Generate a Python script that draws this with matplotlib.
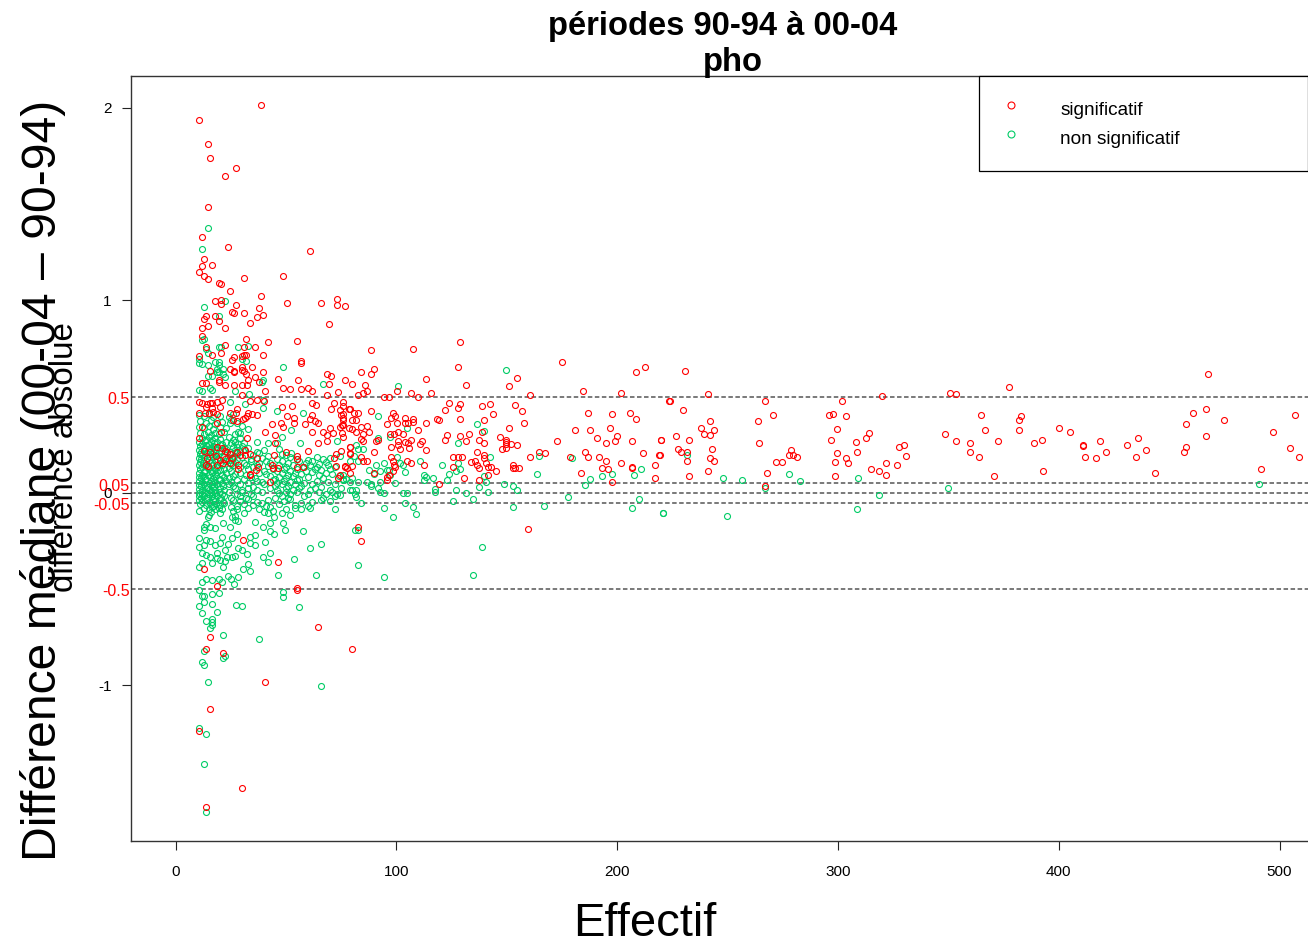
# %%
import matplotlib
matplotlib.use('Agg')
import matplotlib.pyplot as plt
from matplotlib.lines import Line2D
from matplotlib.patches import Rectangle
import numpy as np

plt.rcParams['font.family'] = ['Liberation Sans', 'DejaVu Sans']
plt.rcParams['axes.unicode_minus'] = False

# %%
# values: (effectif, difference)
red_top = [(38.7,2.017),(10.5,1.937),(14.7,1.811),(15.6,1.742),(27.6,1.688),(22.6,1.646),(14.7,1.487),
    (12,1.329),(23.8,1.276),(60.9,1.258),(12.9,1.217),(12,1.179),(16.5,1.186),(10.5,1.148),(12.9,1.127),
    (14.7,1.111),(30.9,1.116),(48.8,1.127),(19.7,1.09),(20.6,1.085),(24.8,1.047),(38.7,1.025),(17.7,.995),
    (20.6,1.002),(20.6,.981),(27.6,.978),(50.7,.985),(65.9,.985),(72.9,1.009),(72.9,.978),(76.6,.973),
    (37.8,.962),(25.7,.942),(26.7,.936),(30.9,.936),(39.6,.926),(36.8,.916),(13.8,.921),(17.7,.921),
    (12.9,.905),(19.7,.895),(33.6,.883),(14.7,.867),(12,.857),(22.6,.857),(69.7,.878),(12,.815),(31.8,.8),
    (41.9,.782),(54.9,.787),(22.6,.767),(30.9,.756),(36,.756),(13.8,.756),(20.6,.729),(16.5,.718),
    (39.6,.718),(31.8,.718),(30.9,.718),(30,.713),(26.7,.708),(10.5,.713),(25.7,.692),(56.8,.687),
    (56.8,.676),(34.5,.656),(24.8,.645),(30,.656),(30,.638),(15.6,.635),(26.7,.635),(26.7,.63),(30.9,.635),
    (31.8,.62),(39.6,.63),(68.6,.62),(70.6,.609),(36,.604),(46.6,.593),(19.7,.587),(32.7,.587),(55.5,.585),
    (76.6,.587)]

red_dense = [(11.9,.57),(13.8,.57),(19.7,.578),(22.6,.563),(26.7,.563),(30,.563),(32.2,.563),(37.8,.578),
    (40.5,.53),(48.8,.544),(51.7,.539),(56.8,.539),(59.9,.544),(62,.53),(69.7,.566),(73.8,.525),(30,.509),
    (68.5,.509),(10.5,.474),(11.9,.466),(16.4,.469),(18.6,.474),(20.9,.483),(33.7,.48),(36.8,.483),
    (40.2,.48),(62,.469),(63.6,.457),(71.8,.469),(75.7,.474),(13.8,.448),(16.4,.44),(27.7,.435),(48.1,.448),
    (52.6,.452),(70.6,.438),(74.5,.431),(78.7,.435),(10.5,.414),(15.3,.417),(19,.41),(27.4,.414),(32.2,.397),
    (34.5,.41),(36.8,.405),(50.7,.4),(61.7,.405),(74.8,.405),(30.4,.383),(27.7,.376),(19,.362),(53.8,.388),
    (53.8,.365),(60.9,.383),(63.2,.371),(58.7,.358),(76,.388),(12,.345),(43.9,.358),(47.6,.365),(48.8,.345),
    (64.7,.365),(75.3,.353),(74.5,.345),(78.7,.336),(70,.336),(20.5,.319),(40.5,.319),(45.1,.301),(61.7,.319),
    (66.9,.319),(71.5,.313),(75.3,.31),(68.5,.301),(10.5,.284),(32.5,.284),(45.1,.261),(64.7,.258),(68.5,.272),
    (79,.241),(18.6,.241),(22.4,.22),(12.9,.22),(24.7,.203),(29.2,.197),(31.5,.197),(33.7,.203),(44.6,.196),
    (49.9,.215),(54.9,.192),(59.9,.22),(74.8,.22),(72.7,.203),(71.8,.18),(79,.203),(14.4,.18),(20.2,.171),
    (22.4,.175),(36.8,.18),(54.9,.175),(43.6,.145),(13.8,.145),(28.5,.145),(37.5,.133),(44.3,.128),(46.6,.128),
    (54.9,.133),(57.6,.137),(72.7,.14),(76.8,.14),(36.5,.12),(28.5,.123),(33.7,.097),(33.7,.092),(74.5,.094),
    (73.8,.076),(42.8,.059),(30.7,-.244),(46.6,-.357),(12.9,-.395),(18.8,-.483),(54.9,-.495),
    (15.6,.215),(18.3,.192),(20.9,.232),(23.2,.215),(25.4,.18),(27.7,.215),(14.9,.14),(19,.145),(21.7,.154),
    (24.7,.154),(31.5,.223),(13.4,.414),(14.4,.462),(17.1,.422),(15.6,.466),(20.2,.448),(24.7,.414),(26.2,.379),
    (31.5,.388),(33,.414)]

red_low = [(54.9,-.504),(64.5,-.696),(15.6,-.75),(13.8,-.812),(21.5,-.833),(79.8,-.812),(40.5,-.982),
    (15.6,-1.12),(10.5,-1.236),(30,-1.533),(13.8,-1.63)]

red_mid = [(88.5,.74),(107.6,.75),(128.8,.786),(127.8,.655),(84,.629),(89.9,.644),(88.5,.618),(174.9,.682),
    (208.7,.629),(212.8,.655),(79.9,.566),(85.8,.561),(113.4,.592),(131.6,.561),(151,.554),(154.7,.598),
    (86.7,.528),(84.9,.518),(82.6,.508),(100.5,.528),(106.7,.518),(115.7,.518),(94.4,.497),(96.8,.497),
    (109.8,.497),(160.6,.508),(184.6,.528),(201.8,.518),(223.7,.476),(75.7,.454),(78.9,.438),(88.5,.428),
    (80.7,.417),(82.6,.417),(98.7,.417),(75.7,.41),(99.6,.4),(97.6,.391),(123.7,.469),(128.8,.464),(127.8,.443),
    (121.9,.433),(139,.454),(142.6,.464),(153.8,.459),(156.9,.428),(143.6,.41),(186.8,.417),(197.5,.41),
    (205.8,.417),(208.7,.385),(139.9,.379),(128.8,.385),(118.6,.386),(119.5,.379),(103.8,.391),(107.6,.386),
    (107.6,.369),(103.8,.364),(105.1,.364),(100.5,.364),(95.8,.359),(113.4,.364),(157.8,.364),(75.7,.379),
    (79.9,.379),(81.7,.379),(75.7,.353),(86.7,.348),(84,.343),(79.9,.333),(81.7,.315),(87.6,.315),(109.8,.327),
    (151,.338),(180.9,.327),(187.7,.327),(196.6,.338),(100.6,.317),(97,.305),(98.8,.305),(102.9,.307),(122.8,.3),
    (128.8,.294),(132.9,.305),(139,.315),(146.8,.289),(190.7,.284),(199.8,.296),(84.8,.305),(75.7,.289),
    (83.9,.281),(84.9,.27),(90.7,.269),(91.7,.275),(100.6,.269),(103.8,.263),(105.1,.258),(106.7,.275),
    (111.8,.269),(110.7,.253),(121.9,.274),(131.6,.269),(137.6,.274),(139.9,.258),(149.5,.274),(149.5,.263),
    (149.5,.253),(151.9,.253),(154.7,.248),(172.6,.269),(194.8,.258),(199,.269),(206.9,.269),(219.7,.275),
    (78.9,.237),(97.7,.241),(100.6,.248),(101.5,.227),(105.6,.232),(113.4,.222),(89.9,.215),(78.9,.206),
    (136.5,.215),(147.7,.227),(149.5,.232),(164.8,.215),(167.5,.206),(185.5,.21),(211.9,.206),(218.8,.199),
    (83.9,.184),(84.9,.168),(86.7,.168),(97.7,.189),(98.7,.168),(104.8,.168),(125.5,.184),(127.8,.189),
    (129.6,.184),(139.9,.199),(139.9,.179),(133.8,.163),(135.6,.168),(160.6,.184),(178.7,.184),(186.9,.184),
    (191.6,.189),(194.8,.168),(140.6,.158),(98.9,.147),(106.7,.153),(112.5,.147),(136.5,.147),(201.8,.158),
    (217,.147),(79.9,.142),(76.6,.137),(77.8,.127),(78.9,.104),(99.6,.137),(98.7,.114),(125.5,.137),(137.6,.13),
    (141.7,.137),(142.7,.137),(145,.114),(152.7,.147),(152.7,.127),(153.8,.127),(155.6,.127),(193,.13),
    (195.9,.125),(206.9,.137),(206.9,.13),(89.9,.104),(96.5,.094),(95.8,.083),(95.8,.068),(141.7,.094),
    (130.7,.078),(137.6,.068),(183.8,.104),(217,.078),(197.5,.057),(119.5,.045),(82.6,-.178),(84,-.251),
    (159.6,-.187)]

red_right = [(230.7,.634),(241,.513),(223.8,.476),(229.8,.433),(241.9,.374),(237.8,.338),(243.7,.327),
    (239.5,.307),(241.9,.3),(226.5,.295),(219.9,.274),(232.7,.274),(242.8,.227),(227.4,.227),(228.9,.215),
    (231.8,.215),(219.4,.199),(241.9,.179),(243.7,.168),(231.8,.168),(241,.114),(232.7,.088),(266.8,.476),
    (270.6,.405),(263.6,.374),(264.4,.258),(278.7,.222),(277.8,.199),(279.8,.199),(281.6,.184),(271.9,.163),
    (274.7,.163),(267.7,.104),(266.8,.036),(301.8,.476),(295.9,.405),(297.8,.41),(303.8,.4),(319.9,.502),
    (299.6,.333),(313.9,.312),(312.5,.284),(296.8,.274),(308,.263),(308.8,.215),(299.6,.205),(327.8,.237),
    (329.8,.248),(330.7,.194),(303.8,.179),(298.7,.163),(304.7,.158),(321.8,.158),(326.7,.147),(314.8,.125),
    (318.6,.114),(321.8,.094),(298.7,.088),(350.9,.518),(353.6,.513),(364.8,.405),(366.6,.327),(348.5,.307),
    (353.6,.269),(359.8,.258),(359.8,.21),(363.9,.184),(377.7,.549),(382.8,.397),(381.9,.379),(381.9,.327),
    (372.7,.269),(388.9,.258),(392.2,.274),(400,.338),(405,.317),(410.9,.248),(410.9,.246),(418.7,.269),
    (421.6,.215),(412,.189),(416.9,.179),(430.8,.248),(436,.284),(439.6,.222),(435,.184),(443.7,.104),
    (370.7,.088),(392.9,.114),(467.8,.618),(460.9,.417),(466.9,.437),(457.7,.359),(474.8,.379),(466.9,.295),
    (457.7,.241),(456.8,.215),(491.8,.125),(507.1,.405),(497,.317),(504.8,.232),(508.9,.184)]

green_top = [(14.7,1.376),(12,1.265),(22.6,.995),(12.9,.968),(19.7,.921),(12,.793),(12.9,.798),(19.7,.756),
    (20.6,.756),(28.5,.756),(32.7,.761),(13.8,.745),(14.7,.729),(10.5,.697),(10.5,.676),(12,.671),(30,.697),
    (31.8,.687),(17.7,.682),(19.7,.682),(14.7,.666),(19.7,.666),(48.8,.656),(21.5,.645),(18.8,.645),(18.8,.628),
    (19.7,.628),(21.5,.62),(14.7,.607),(16.5,.607),(22.6,.6),(39.6,.585)]

green_dense = [(10.5,.535),(12,.527),(15.6,.544),(16.4,.535),(27,.527),(33.4,.514),(39,.578),(66.9,.566),
    (24.7,.474),(31.5,.462),(39.8,.483),(39.8,.44),(45.8,.428),(57.6,.414),(24.7,.362),(28.5,.319),(36.8,.267),
    (42,.258),(45.8,.258),(48,.293),(52.3,.327),(56.4,.258),(73,.27),
    (10.5,.403),(13,.397),(15,.408),(17,.392),(20,.401),(24,.395),(26,.41),(11,.372),(14,.365),(16,.377),
    (18,.36),(21,.369),(25,.378),(28,.362),(10.5,.342),(13,.335),(15,.349),(17,.331),(20,.344),(23,.338),
    (30,.346),(33,.332),(11,.313),(13,.304),(14.5,.318),(16,.3),(18,.311),(19.5,.306),(22,.317),(27,.305),
    (29,.313),(12,.284),(14,.277),(15,.291),(16.5,.274),(18,.286),(20,.279),(24,.289),(26,.275),(29,.283),
    (10.5,.262),(12,.255),(13.5,.268),(15,.253),(16,.264),(17.5,.257),(19,.266),(21,.252),(23,.263),(25,.258),
    (27,.267),(28.5,.254),(31,.261),(11,.243),(13,.235),(14,.248),(15.5,.231),(17,.244),(18,.238),(20,.247),
    (22,.233),(26,.241),(28,.236),(30,.246),(33,.232),(10.5,.222),(11.5,.214),(13,.226),(14.5,.217),(16,.225),
    (17,.212),(18.5,.221),(20.5,.216),(23,.227),(24.5,.213),(27,.224),(29,.218),(31,.226),(37,.214),(40,.223),
    (47,.228),(11,.203),(12,.196),(14,.207),(15,.192),(16.5,.204),(18,.197),(19.5,.208),(21,.193),(25,.202),
    (26.5,.194),(28,.206),(35,.198),(38,.205),(42,.194),(48,.203),(50,.196),(52.5,.208),(10.5,.182),(11.5,.176),
    (13,.187),(15,.173),(17,.184),(19,.178),(22,.186),(24,.172),(26,.183),(28,.177),(30,.187),(34,.175),(39,.183),
    (46,.176),(52,.186),(55,.178),(60,.172),(64,.184),(67,.176),(70,.183),(11,.163),(12.5,.155),(14,.166),(16,.153),
    (18,.164),(20,.157),(23,.167),(25,.152),(27,.163),(31,.156),(34,.165),(38,.153),(41,.164),(43,.157),(48,.166),
    (51,.153),(56,.164),(59,.156),(62,.166),(65,.152),(68,.162),(10.5,.143),(12,.136),(13.5,.147),(15,.133),(17,.144),
    (19,.137),(21,.146),(24,.132),(26,.143),(29,.137),(32,.146),(35,.133),(37,.144),(42,.138),(47,.147),(50,.133),
    (53,.144),(58,.136),(61,.146),(64,.133),(69,.143),(72,.137),(11,.123),(13,.115),(14.5,.127),(16,.113),(18,.124),
    (20,.117),(22,.126),(25,.112),(33,.125),(40,.116),(44,.126),(46,.113),(49,.124),(52,.116),(55,.126),(59,.113),
    (63,.124),(66,.117),(70,.126),(10.5,.103),(12,.095),(13,.107),(15,.094),(16.5,.105),(18,.097),(19,.108),(21,.093),
    (23,.104),(27,.096),(29,.106),(32,.093),(38,.104),(41,.097),(48,.106),(51,.094),(54,.105),(57,.097),(62,.107),
    (65,.093),(68,.104),(71,.096),(10.5,.083),(11.5,.076),(13,.086),(14,.073),(15.5,.084),(17,.077),(18.5,.087),
    (20,.074),(22,.085),(24,.077),(26,.087),(31,.074),(34,.085),(36,.077),(43,.086),(45,.073),(47,.084),(50,.076),
    (53,.087),(56,.074),(60,.085),(67,.077),(74,.086),(77,.074),(10.5,.062),(12,.056),(13.5,.066),(15,.053),(16,.064),
    (18,.057),(19.5,.067),(21,.053),(23,.064),(25,.056),(28,.066),(33,.053),(37,.064),(39,.057),(44,.066),(46,.053),
    (49,.064),(52,.056),(55,.067),(58,.053),(64,.064),(69,.056),(76,.066),(10.5,.043),(11.5,.036),(13,.047),(14.5,.033),
    (16.5,.044),(17.5,.037),(19,.046),(21.5,.034),(24,.044),(26,.037),(29,.046),(35,.033),(40,.044),(45,.036),(48,.046),
    (51,.034),(54,.044),(57,.037),(62,.046),(66,.033),(72,.044),(10.5,.022),(12,.015),(14,.026),(15,.013),(17,.024),
    (18,.016),(20,.027),(22,.013),(27,.024),(30,.016),(33,.026),(37,.014),(43,.024),(46,.016),(50,.027),(53,.013),
    (56,.024),(61,.016),(63,.026),(70,.014),(75,.024),(79,.016),(10.5,.002),(12,-.004),(13.5,.006),(15,-.006),(16,.004),
    (18,-.003),(19.5,.007),(21,-.007),(24,.003),(28,-.004),(30,.006),(34,-.006),(39,.004),(47,-.003),(50,.007),(52,-.006),
    (55,.004),(60,-.004),(65,.006),(68,-.006),(71,.003),(73,-.004),(10.5,-.018),(11.5,-.025),(13,-.015),(14.5,-.027),
    (16.5,-.017),(17.5,-.024),(19,-.014),(20.5,-.027),(22,-.017),(25,-.024),(29,-.014),(32,-.026),(35,-.017),(45,-.024),
    (48,-.014),(51,-.027),(58,-.017),(67,-.024),(72,-.016),(10.5,-.037),(12,-.045),(14,-.034),(15,-.047),(17,-.036),
    (18,-.044),(20,-.034),(21.5,-.047),(26,-.037),(29,-.044),(33,-.034),(37,-.046),(42,-.036),(49,-.044),(52,-.034),
    (62,-.046),(66,-.036),(70,-.044),(11,-.057),(14,-.064),(15.5,-.054),(17,-.066),(18.5,-.056),(20,-.064),(22,-.054),
    (28,-.066),(31,-.056),(35,-.064),(39,-.054),(41,-.066),(47,-.056),(54,-.064),(57,-.054),(60,-.066),(10.5,-.092),
    (13,-.077),(15,-.084),(16.5,-.074),(18,-.086),(19.5,-.076),(21,-.084),(25,-.074),(28,-.086),(33,-.076),(38,-.084),
    (43,-.074),(50,-.086),(54,-.076),(57,-.084),(61,-.076),(72,-.086),(16,-.097),(20,-.103),(26,-.094),(31,-.104),
    (40,-.097),(42,-.104),(44,-.094),(48,-.103),(15,-.113),(25.5,-.123),(52,-.114),
    (14.7,-.123),(12.9,-.175),(13.8,-.161),(15.6,-.175),(12.9,-.192),(17.9,-.184),(21.7,-.158),(24.7,-.175),(27,-.12),
    (27,-.14),(28.5,-.144),(36,-.149),(39.8,-.175),(42.8,-.158),(44.6,-.123),(48.8,-.154),(49.7,-.192),(42.8,-.196),
    (44.8,-.213),(57.6,-.197),(10.5,-.235),(13.8,-.244),(15.6,-.248),(10.5,-.282),(12.9,-.27),(17.9,-.27),(20.2,-.262),
    (20.9,-.23),(23.9,-.267),(27.7,-.213),(25.4,-.236),(33.7,-.227),(36,-.218),(33.7,-.262),(36,-.27),(40.5,-.256),
    (60.9,-.288),(65.9,-.267),(11.9,-.313),(13.8,-.322),(15.6,-.334),(18.6,-.313),(19,-.339),(20.2,-.348),(16.4,-.362),
    (22.4,-.296),(23.2,-.331),(25.4,-.331),(27,-.326),(28.5,-.284),(30,-.296),(32.2,-.317),(22.4,-.352),(39.8,-.331),
    (42.8,-.313),(42,-.357),(53.8,-.343),(11.9,-.365),(10.5,-.383),(21.4,-.383),(32.7,-.371),(30.7,-.395),(33.7,-.403),
    (46.6,-.426),(63.6,-.426),(23.9,-.431),(25,-.448),(28.5,-.435),(26.5,-.473),(13.8,-.448),(16.4,-.452),(11.9,-.461),
    (19.9,-.447),(20.9,-.464)]

green_low = [(10.5,-.504),(12,-.537),(12.9,-.537),(16.5,-.527),(19.7,-.521),(12.9,-.565),(10.5,-.585),(16.5,-.575),
    (27.6,-.58),(30,-.585),(12,-.622),(18.8,-.617),(13.8,-.665),(16.5,-.655),(16.5,-.668),(16.5,-.684),(15.6,-.701),
    (48.8,-.516),(48.8,-.542),(55.8,-.591),(21.7,-.738),(37.8,-.76),(12.9,-.823),(12,-.88),(12.9,-.894),(21.5,-.856),
    (22.6,-.845),(14.7,-.982),(65.9,-1.004),(10.5,-1.223),(13.8,-1.252),(12.9,-1.406),(13.8,-1.655)]

green_mid = [(149.5,.636),(100.6,.554),(91.9,.397),(136.5,.359),(139.9,.322),(104.8,.338),(91.9,.286),(97,.289),
    (127.8,.258),(81.7,.248),(82.6,.227),(84.9,.227),(80.8,.194),(78.9,.168),(82.6,.168),(74.5,.194),(164.8,.194),
    (179.6,.179),(142.6,.184),(100.5,.184),(94.6,.158),(90.8,.147),(101.7,.153),(103.2,.147),(110.7,.168),(120.8,.147),
    (127.8,.158),(128.8,.125),(126.9,.114),(123.7,.099),(87.6,.12),(92.6,.114),(95.9,.12),(96.8,.12),(103.9,.109),
    (90,.099),(97,.094),(79.9,.078),(75.7,.094),(75.7,.071),(112.5,.094),(113.4,.083),(112.5,.068),(116.8,.078),
    (122.8,.068),(163.9,.099),(187.9,.073),(193,.088),(197.5,.099),(207.7,.094),(211,.125),(139.7,.088),(140.6,.057),
    (78.9,.057),(82.6,.057),(86.7,.057),(92.6,.057),(99.6,.052),(88.5,.047),(88.5,.037),(91.9,.026),(148.6,.047),
    (152.9,.037),(137.5,.031),(185.5,.042),(79.9,.016),(81.7,.016),(92.6,.005),(94.6,0),(102.9,0),(104.8,0),(117.7,.021),
    (117.7,.005),(126.9,.016),(131.6,0),(141.7,.005),(154.7,.016),(81.4,-.005),(81.7,-.02),(74.5,-.012),(84,-.054),
    (125.5,-.04),(134.7,-.031),(177.8,-.022),(103.8,-.054),(94.6,-.076),(107.6,-.071),(152.7,-.071),(166.7,-.066),
    (209.8,-.033),(206.9,-.076),(220.6,-.102),(108.9,-.112),(98.7,-.125),(81.4,-.192),(82.6,-.192),(139,-.282),
    (82.6,-.372),(94.6,-.436),(134.7,-.426)]

green_right = [(231.8,.199),(247.9,.078),(256.7,.068),(278,.099),(282.7,.063),(266.8,.026),(308.9,.078),(318.6,-.012),
    (350,.026),(308.8,-.086),(249.7,-.118),(220.6,-.102),(490.9,.047)]

line_levels = [0.5, 0.05, 0, -0.05, -0.5]
red_labels = ['0.5', '0.05', '-0.05', '-0.5']
red_label_values = [0.5, 0.05, -0.05, -0.5]
x_ticks = [0, 100, 200, 300, 400, 500]
y_ticks = [2, 1, 0, -1]

RED = '#ff0000'
GREEN = '#00cc66'

red_pts = np.array(red_top + red_dense + red_low + red_mid + red_right)
green_pts = np.array(green_top + green_dense + green_low + green_mid + green_right)

# %%
fig = plt.figure(figsize=(13.08, 9.46), dpi=100)
ax = fig.add_axes([130.5/1308, 1 - 841/946, (1308 - 130.5)/1308, (841 - 76.5)/946])
ax.set_xlim(-20.4, 512.9)
ax.set_ylim(-1.808, 2.163)

for level in line_levels:
    ax.axhline(level, color='#555555', lw=1.1, linestyle=(0, (2.95, 1.65)), zorder=1)

mark = dict(linestyle='none', marker='o', mfc='none', ms=4.3, mew=0.8, zorder=2)
ax.plot(green_pts[:, 0], green_pts[:, 1], color=GREEN, **mark)
ax.plot(red_pts[:, 0], red_pts[:, 1], color=RED, **mark)

ax.set_xticks(x_ticks)
ax.set_yticks(y_ticks)
ax.tick_params(length=6.5, width=0.8, labelsize=11, color='#222222')
ax.tick_params(axis='x', pad=11)
ax.tick_params(axis='y', pad=7)
ax.spines['right'].set_visible(False)
for side in ['left', 'top', 'bottom']:
    ax.spines[side].set_color('#333333')
    ax.spines[side].set_linewidth(1.0)

for v, s in zip(red_label_values, red_labels):
    ax.annotate(s, xy=(0, v), xycoords=ax.get_yaxis_transform(), xytext=(-0.5, -2),
                textcoords='offset points', ha='right', va='center', color=RED, fontsize=11.5)

# %%
# legend box runs off the right edge, so the frame is drawn on its own
legend_left = (979.5 - 130.5) / 1177.5
legend_bottom = (841 - 171) / (841 - 76.5)
ax.add_patch(Rectangle((legend_left, legend_bottom), 1 - legend_left, 1 - legend_bottom,
                       transform=ax.transAxes, fc='white', ec='black', lw=0.9, zorder=3, clip_on=False))
handles = [Line2D([], [], color=RED, linestyle='none', marker='o', mfc='none', ms=5, mew=0.8),
           Line2D([], [], color=GREEN, linestyle='none', marker='o', mfc='none', ms=5, mew=0.8)]
leg = ax.legend(handles, ['significatif', 'non significatif'], loc='upper left',
                bbox_to_anchor=(legend_left, 1), borderaxespad=0, fontsize=13.7, frameon=False,
                borderpad=1.32, labelspacing=0.62, handlelength=0.63, handletextpad=2.29)
leg.set_zorder(4)
for h in leg.legend_handles:
    h.set_ydata(np.asarray(h.get_ydata()) + 2.5)

fig.text(723/1308, 1 - 26/946, 'périodes 90-94 à 00-04', ha='center', va='center',
         fontsize=23.6, fontweight='bold')
fig.text(733/1308, 1 - 63/946, 'pho', ha='center', va='center', fontsize=23.6, fontweight='bold')
fig.text(43/1308, 1 - 480/946, 'Différence médiane (00-04 – 90-94)', rotation=90,
         ha='center', va='center', fontsize=34.7)
fig.text(65/1308, 1 - 457/946, 'difference absolue', rotation=90, ha='center', va='center', fontsize=23.9)
fig.text(645/1308, 1 - 924/946, 'Effectif', ha='center', va='center', fontsize=34)

fig.savefig('out.png', dpi=100)
